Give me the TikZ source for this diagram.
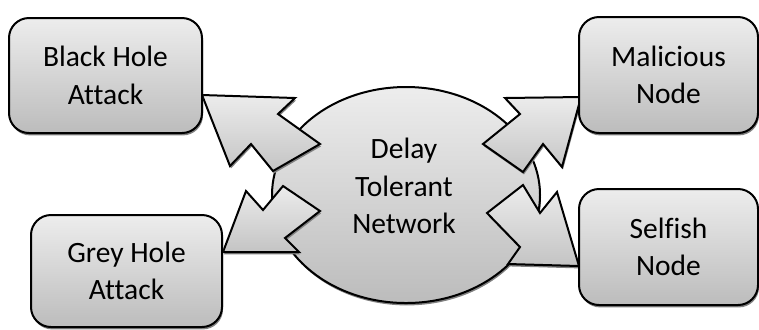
\documentclass[tikz,border=0pt]{standalone}
\usepackage{fontspec}
\setmainfont[Ligatures={NoCommon,NoRequired}]{Carlito}
\usetikzlibrary{shapes.geometric,shadows}
\definecolor{boxtop}{RGB}{237,237,237}
\definecolor{boxbot}{RGB}{188,188,188}
\definecolor{arrtop}{RGB}{236,236,236}
\definecolor{arrbot}{RGB}{196,196,196}
\begin{document}
\begin{tikzpicture}[x=0.5pt,y=-0.5pt,
  every node/.style={font=\fontsize{14.75pt}{18.75pt}\selectfont},
  shadowed/.style={drop shadow={shadow xshift=0.5pt,shadow yshift=-1.2pt,fill=black!50,opacity=1}},
  box/.style={draw=black,line width=1pt,rounded corners=10pt,align=center,
    top color=boxtop,bottom color=boxbot,shadowed,inner sep=0pt},
  blockarrow/.style={draw=black,line width=1pt,line join=miter,
    top color=arrtop,bottom color=arrbot,shadowed}]
\useasboundingbox (0,0) rectangle (759,329);
% central ellipse
\node[ellipse,draw=black,line width=1pt,minimum width=134pt,minimum height=108pt,
  inner sep=0pt,top color=boxtop,bottom color=boxbot,shadowed] (dtn) at (406,195) {};
% block arrows
\draw[blockarrow] (202,95) -- (295,98) -- (278,114) -- (320,144) -- (273,171) -- (251,144) -- (230,166) -- cycle;
\draw[blockarrow] (581,97) -- (505,98) -- (520,114) -- (483,144) -- (523,172) -- (543,144) -- (562,167) -- cycle;
\draw[blockarrow] (223,252) -- (299,252) -- (285,238) -- (320,211) -- (283,186) -- (263,210) -- (246,191) -- cycle;
\draw[blockarrow] (579,266) -- (508,264) -- (520,247) -- (487,213) -- (523,185) -- (540,213) -- (557,192) -- cycle;
\node[align=center,inner sep=0pt] (dtnlabel) at (404,186) {Delay\\Tolerant\\Network};
% boxes
\node[box,minimum width=96.5pt,minimum height=57.5pt] (bh) at (105.5,75.5) {Black Hole\\Attack};
\node[box,minimum width=89.5pt,minimum height=58pt] (mn) at (668.5,75) {Malicious\\Node};
\node[box,minimum width=95.5pt,minimum height=56pt] (gh) at (126.5,271) {Grey Hole\\Attack};
\node[box,minimum width=89.5pt,minimum height=58pt] (sn) at (668.5,247) {Selfish\\Node};
\end{tikzpicture}
\end{document}
